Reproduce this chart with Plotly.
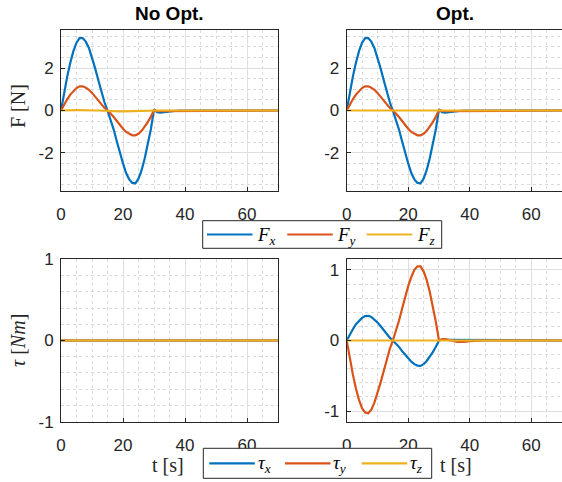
import plotly.graph_objects as go

# ---------------- data ----------------
t = [0, 1, 2, 3, 4, 5, 6, 7, 8, 9, 10, 11, 12, 13, 14, 15, 16, 17, 18, 19, 20,
     21, 22, 23, 24, 25, 26, 27, 28, 29, 30, 31, 32, 33, 34, 35, 36, 38, 40,
     45, 50, 60, 70]

fx_noopt = [0, 0.85, 1.6, 2.25, 2.8, 3.2, 3.42, 3.42, 3.25, 2.95, 2.5, 2.0, 1.45,
            0.9, 0.4, 0, -0.4, -0.9, -1.45, -2.0, -2.5, -2.95, -3.25, -3.42, -3.44,
            -3.22, -2.82, -2.27, -1.62, -0.87, 0.05, -0.08, -0.1, -0.08, -0.05,
            -0.03, -0.01, 0, 0, 0, 0, 0, 0]
fy_noopt = [0, 0.28, 0.53, 0.75, 0.93, 1.06, 1.14, 1.14, 1.08, 0.98, 0.83, 0.67,
            0.48, 0.3, 0.13, 0, -0.14, -0.31, -0.5, -0.69, -0.86, -1.01, -1.11,
            -1.17, -1.17, -1.1, -0.96, -0.77, -0.55, -0.29, 0.02, -0.03, -0.03,
            -0.02, -0.01, 0, 0, 0, 0, 0, 0, 0, 0]
fz_noopt = [0, 0.01, 0.02, 0.02, 0.02, 0.02, 0.02, 0.01, 0.01, 0, 0, 0, 0, -0.01,
            -0.01, -0.02, -0.03, -0.03, -0.04, -0.04, -0.04, -0.04, -0.04, -0.04,
            -0.03, -0.03, -0.02, -0.02, -0.01, -0.01, 0, 0, 0, 0, 0, 0, 0, 0, 0,
            0, 0, 0, 0]

fx_opt = [0, 0.85, 1.6, 2.25, 2.8, 3.2, 3.42, 3.42, 3.25, 2.95, 2.5, 2.0, 1.45,
          0.9, 0.4, 0, -0.4, -0.9, -1.45, -2.0, -2.5, -2.95, -3.25, -3.42, -3.44,
          -3.22, -2.82, -2.27, -1.62, -0.87, 0.05, -0.08, -0.1, -0.08, -0.05,
          -0.03, -0.01, 0, 0, 0, 0, 0, 0]
fy_opt = [0, 0.28, 0.53, 0.75, 0.93, 1.06, 1.14, 1.14, 1.08, 0.98, 0.83, 0.67,
          0.48, 0.3, 0.13, 0, -0.14, -0.31, -0.5, -0.69, -0.86, -1.01, -1.11,
          -1.17, -1.17, -1.1, -0.96, -0.77, -0.55, -0.29, 0.02, -0.03, -0.03,
          -0.02, -0.01, 0, 0, 0, 0, 0, 0, 0, 0]
fz_opt = [0] * 43

tx_noopt = [0] * 43
ty_noopt = [0] * 43
tz_noopt = [0] * 43

tx_opt = [0, 0.09, 0.16, 0.23, 0.28, 0.32, 0.345, 0.35, 0.335, 0.30, 0.255, 0.205,
          0.15, 0.09, 0.04, 0, -0.04, -0.09, -0.15, -0.205, -0.255, -0.30, -0.335,
          -0.355, -0.36, -0.335, -0.29, -0.23, -0.165, -0.09, 0.0, 0.01, 0.01,
          0, 0, 0, 0, 0, 0, 0, 0, 0, 0]
ty_opt = [0, -0.26, -0.48, -0.68, -0.84, -0.96, -1.02, -1.03, -0.98, -0.88, -0.75,
          -0.6, -0.44, -0.27, -0.12, 0, 0.13, 0.28, 0.45, 0.62, 0.77, 0.9, 1.0,
          1.05, 1.05, 0.98, 0.86, 0.69, 0.49, 0.26, 0.0, 0.02, 0.02, 0.01, 0,
          -0.01, -0.02, -0.02, -0.01, 0, 0, 0, 0]
tz_opt = [0] * 43

force_names = ["<i>F</i><sub><i>x</i></sub>", "<i>F</i><sub><i>y</i></sub>",
               "<i>F</i><sub><i>z</i></sub>"]
torque_names = ["<i>τ</i><sub><i>x</i></sub>", "<i>τ</i><sub><i>y</i></sub>",
                "<i>τ</i><sub><i>z</i></sub>"]
titles = ["No Opt.", "Opt."]
x_ticks = [0, 20, 40, 60]
x_ticklabels = ["0", "20", "40", "60"]
f_ticks = [-2, 0, 2]
f_ticklabels = ["-2", "0", "2"]
tau_ticks = [-1, 0, 1]
tau_ticklabels = ["-1", "0", "1"]
colors = ["#0072BD", "#D95319", "#EDB120"]

# ---------------- figure ----------------
W, H = 562, 482
fig = go.Figure()

def px_x(p):
    return p / W

def px_y(p):
    return 1 - p / H

panels = [
    ("x", "y", [fx_noopt, fy_noopt, fz_noopt], force_names),
    ("x2", "y2", [fx_opt, fy_opt, fz_opt], force_names),
    ("x3", "y3", [tx_noopt, ty_noopt, tz_noopt], torque_names),
    ("x4", "y4", [tx_opt, ty_opt, tz_opt], torque_names),
]
for xa, ya, series, names in panels:
    for s, n, c in zip(series, names, colors):
        fig.add_trace(go.Scatter(x=t, y=s, mode="lines", name=n,
                                 line=dict(color=c, width=2.2),
                                 xaxis=xa, yaxis=ya, showlegend=False,
                                 hoverinfo="skip"))

axcol = "#262626"
tickfont = dict(family="Liberation Sans, Arial", size=17, color=axcol)

def xax(domain, anchor):
    return dict(domain=domain, range=[0, 70], tickmode="array", tickvals=x_ticks,
                ticktext=x_ticklabels, anchor=anchor, automargin=False,
                showline=True, linecolor=axcol, linewidth=1, mirror=True,
                ticks="inside", ticklen=4, tickcolor=axcol,
                showgrid=True, gridcolor="#dfdfdf", gridwidth=1,
                zeroline=False, tickfont=tickfont, ticklabelstandoff=8,
                minor=dict(dtick=5, tick0=0, showgrid=True, gridcolor="#dadada",
                           griddash="dot", gridwidth=1))

def yax(domain, rng, tv, tt, minor, anchor, mirror=True):
    return dict(domain=domain, range=rng, tickmode="array", tickvals=tv, ticktext=tt,
                anchor=anchor, automargin=False,
                showline=True, linecolor=axcol, linewidth=1, mirror=mirror,
                ticks="inside", ticklen=4, tickcolor=axcol,
                showgrid=True, gridcolor="#dfdfdf", gridwidth=1,
                zeroline=False, tickfont=tickfont, ticklabelstandoff=3,
                minor=dict(dtick=minor, tick0=0, showgrid=True, gridcolor="#dadada",
                           griddash="dot", gridwidth=1))

xl = [px_x(61), px_x(278)]
xr = [px_x(346.7), 1.0]
yt = [px_y(191), px_y(30)]
yb = [px_y(421.7), px_y(259.3)]

fig.update_layout(
    width=W, height=H, margin=dict(l=0, r=0, t=0, b=0, autoexpand=False),
    paper_bgcolor="white", plot_bgcolor="white",
    xaxis=xax(xl, "y"),
    yaxis=yax(yt, [-3.8, 3.8], f_ticks, f_ticklabels, 0.5, "x"),
    xaxis2=xax(xr, "y2"),
    yaxis2=yax(yt, [-3.8, 3.8], f_ticks, f_ticklabels, 0.5, "x2", mirror=False),
    xaxis3=xax(xl, "y3"),
    yaxis3=yax(yb, [-1, 1], tau_ticks, tau_ticklabels, 0.2, "x3"),
    xaxis4=xax(xr, "y4"),
    yaxis4=yax(yb, [-1.15, 1.15], tau_ticks, tau_ticklabels, 0.2, "x4", mirror=False),
    showlegend=False,
)

shapes = []
ann = []
legfont = dict(family="Liberation Serif, DejaVu Serif", size=19, color="black")

def legend_box(x0, x1, y0, y1, seg_starts, seg_len, text_x, names):
    shapes.append(dict(type="rect", xref="paper", yref="paper",
                       x0=px_x(x0), x1=px_x(x1), y0=px_y(y1), y1=px_y(y0),
                       line=dict(color=axcol, width=1), fillcolor="white", layer="above"))
    yc = (y0 + y1) / 2
    for sx, tx, n, c in zip(seg_starts, text_x, names, colors):
        shapes.append(dict(type="line", xref="paper", yref="paper",
                           x0=px_x(sx), x1=px_x(sx + seg_len), y0=px_y(yc), y1=px_y(yc),
                           line=dict(color=c, width=2.2), layer="above"))
        ann.append(dict(text=n, x=px_x(tx), y=px_y(yc + 1), xref="paper", yref="paper",
                        showarrow=False, xanchor="left", yanchor="middle", font=legfont,
                        borderpad=0))

legend_box(202.7, 441.7, 220.7, 248.3, [207, 287.3, 366.7], 45.5,
           [256, 335.5, 415.5], force_names)
legend_box(203.3, 431.7, 448.3, 478.3, [209.3, 285, 361.7], 45.5,
           [256.5, 332, 408.5], torque_names)

titlefont = dict(family="Liberation Sans, Arial", size=19, color="black")
ann.append(dict(text="<b>" + titles[0] + "</b>", x=px_x(169.5), y=px_y(13), xref="paper",
                yref="paper", showarrow=False, xanchor="center", yanchor="middle",
                font=titlefont))
ann.append(dict(text="<b>" + titles[1] + "</b>", x=px_x(454.5), y=px_y(13), xref="paper",
                yref="paper", showarrow=False, xanchor="center", yanchor="middle",
                font=titlefont))
labfont = dict(family="Liberation Serif, DejaVu Serif", size=20, color=axcol)
ann.append(dict(text="F [N]", x=px_x(18), y=px_y(106), xref="paper", yref="paper",
                showarrow=False, textangle=-90, xanchor="center", yanchor="middle",
                font=labfont))
ann.append(dict(text="<i>τ</i> [<i>Nm</i>]", x=px_x(18), y=px_y(341), xref="paper",
                yref="paper", showarrow=False, textangle=-90, xanchor="center",
                yanchor="middle", font=labfont))
ann.append(dict(text="t [s]", x=px_x(167.5), y=px_y(465), xref="paper", yref="paper",
                showarrow=False, xanchor="center", yanchor="middle", font=labfont,
                borderpad=0))
ann.append(dict(text="t [s]", x=px_x(456), y=px_y(465), xref="paper", yref="paper",
                showarrow=False, xanchor="center", yanchor="middle", font=labfont,
                borderpad=0))
fig.update_layout(annotations=ann, shapes=shapes)

fig.write_html("out.html")
